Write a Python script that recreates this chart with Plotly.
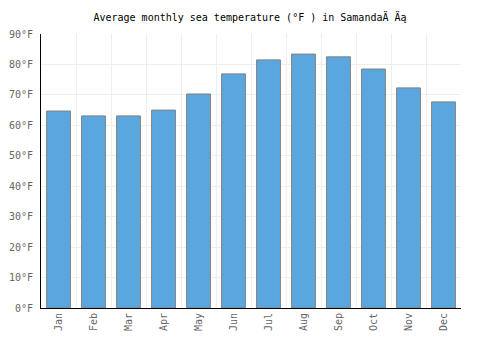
import plotly.graph_objects as go

months = ["Jan", "Feb", "Mar", "Apr", "May", "Jun", "Jul", "Aug", "Sep", "Oct", "Nov", "Dec"]
temps_f = [64.7, 63.1, 63.1, 65.0, 70.3, 76.9, 81.5, 83.4, 82.5, 78.5, 72.3, 67.7]
y_ticks = [0, 10, 20, 30, 40, 50, 60, 70, 80, 90]
y_labels = [f"{v}°F" for v in y_ticks]
title = "Average monthly sea temperature (°F ) in SamandaÄ Äą"

fig = go.Figure()
fig.add_trace(go.Bar(
    x=months, y=temps_f, width=0.68,
    marker=dict(color="#5aa7df", line=dict(color="#808080", width=1)),
    hoverinfo="x+y",
))

font = "DejaVu Sans Mono, monospace"
fig.update_layout(
    width=500, height=350,
    margin=dict(l=41, r=39, t=34, b=42),
    paper_bgcolor="white", plot_bgcolor="white",
    showlegend=False,
    title=dict(text=title, x=0.5, xanchor="center", y=0.951, yanchor="middle",
               font=dict(family=font, size=10, color="#000")),
    font=dict(family=font, size=10, color="#666"),
)
fig.update_xaxes(
    type="category", tickson="boundaries", showgrid=True, gridcolor="#eeeeee",
    showline=True, linecolor="#000", linewidth=1, tickangle=-90,
    ticks="outside", ticklen=4, tickcolor="rgba(0,0,0,0)", automargin=False,
    tickfont=dict(family=font, size=10, color="#666"),
)
fig.update_yaxes(
    range=[0, 90], tickvals=y_ticks, ticktext=y_labels,
    showgrid=True, gridcolor="#eeeeee", zeroline=False,
    showline=True, linecolor="#000", linewidth=1, automargin=False,
    ticks="outside", ticklen=5, tickcolor="rgba(0,0,0,0)",
    tickfont=dict(family=font, size=10, color="#666"),
)
fig.write_html("out.html")
